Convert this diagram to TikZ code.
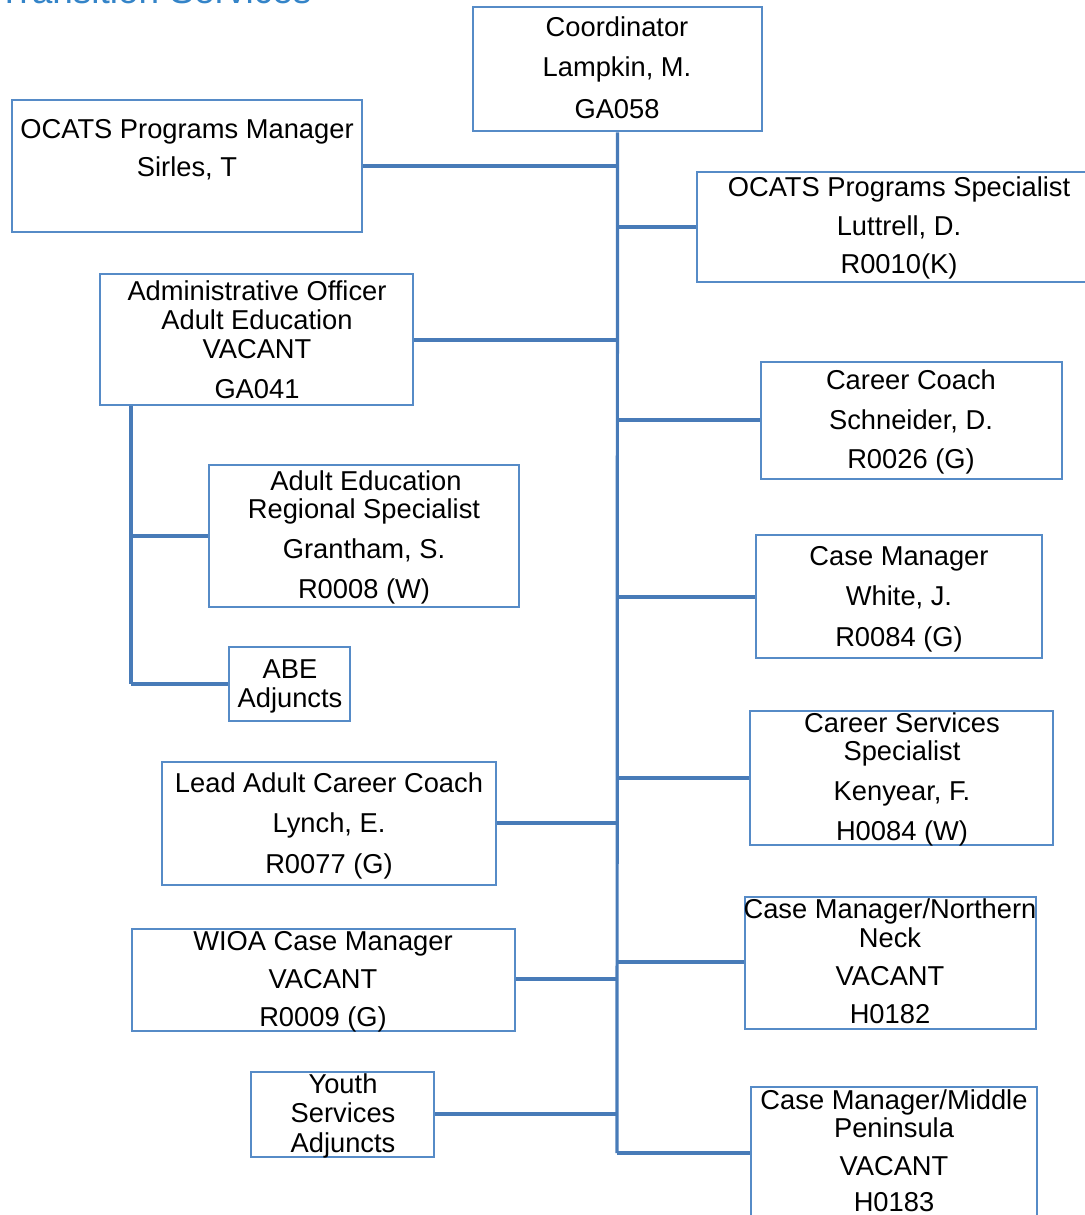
\documentclass[tikz,border=0pt]{standalone}
\usepackage{fontspec}
\setmainfont{Liberation Sans}
\usetikzlibrary{fit}
\definecolor{boxblue}{RGB}{86,139,199}
\definecolor{lineblue}{RGB}{72,123,184}
\definecolor{titleblue}{RGB}{52,132,200}
\tikzset{
  orgbox/.style={draw=boxblue, line width=2.8pt, inner sep=0pt},
  ln/.style={anchor=base, inner sep=0pt, font=\fontsize{27.3}{29}\selectfont},
  conn/.style={draw=lineblue, line width=3.2pt},
}
\begin{document}
\begin{tikzpicture}[x=1pt,y=-1pt]
\useasboundingbox (0,0) rectangle (1084,1215);
% title (cut at top)
\node[anchor=base west, inner sep=0pt, text=titleblue, font=\fontsize{37}{40}\selectfont] (title) at (-2,4) {Transition Services};

% boxes
\node[orgbox, fit={(473,7) (762,131)}] (coord) {};
\node[orgbox, fit={(12,100) (362,232)}] (mgr) {};
\node[orgbox, fit={(697,172) (1095,282)}] (spec) {};
\node[orgbox, fit={(100,274) (413,405)}] (ao) {};
\node[orgbox, fit={(761,362) (1062,479)}] (cc) {};
\node[orgbox, fit={(209,465) (519,607)}] (aers) {};
\node[orgbox, fit={(229,647) (350,721)}] (abe) {};
\node[orgbox, fit={(756,535) (1042,658)}] (cmw) {};
\node[orgbox, fit={(750,711) (1053,845)}] (css) {};
\node[orgbox, fit={(162,762) (496,885)}] (lead) {};
\node[orgbox, fit={(745,897) (1036,1029)}] (nn) {};
\node[orgbox, fit={(132,929) (515,1031)}] (wioa) {};
\node[orgbox, fit={(251,1072) (434,1157)}] (youth) {};
\node[orgbox, fit={(751,1087) (1037,1245)}] (mp) {};

% texts
\node[ln] (coordA) at (617,37) {Coordinator};
\node[ln] (coordB) at (617,77) {Lampkin, M.};
\node[ln] (coordC) at (617,118) {GA058};

\node[ln] (mgrA) at (187,138) {OCATS Programs Manager};
\node[ln] (mgrB) at (187,176) {Sirles, T};

\node[ln] (specA) at (899,196) {OCATS Programs Specialist};
\node[ln] (specB) at (899,235) {Luttrell, D.};
\node[ln] (specC) at (899,273) {R0010(K)};

\node[ln] (aoA) at (257,300) {Administrative Officer};
\node[ln] (aoB) at (257,329) {Adult Education};
\node[ln] (aoC) at (257,358) {VACANT};
\node[ln] (aoD) at (257,398) {GA041};

\node[ln] (ccA) at (911,389) {Career Coach};
\node[ln] (ccB) at (911,429) {Schneider, D.};
\node[ln] (ccC) at (911,468) {R0026 (G)};

\node[ln] (aersA) at (366,490) {Adult Education};
\node[ln] (aersB) at (364,518) {Regional Specialist};
\node[ln] (aersC) at (364,558) {Grantham, S.};
\node[ln] (aersD) at (364,598) {R0008 (W)};

\node[ln] (abeA) at (290,678) {ABE};
\node[ln] (abeB) at (290,707) {Adjuncts};

\node[ln] (cmwA) at (899,565) {Case Manager};
\node[ln] (cmwB) at (899,605) {White, J.};
\node[ln] (cmwC) at (899,646) {R0084 (G)};

\node[ln] (cssA) at (902,732) {Career Services};
\node[ln] (cssB) at (902,760) {Specialist};
\node[ln] (cssC) at (902,800) {Kenyear, F.};
\node[ln] (cssD) at (902,840) {H0084 (W)};

\node[ln] (leadA) at (329,792) {Lead Adult Career Coach};
\node[ln] (leadB) at (329,832) {Lynch, E.};
\node[ln] (leadC) at (329,873) {R0077 (G)};

\node[ln] (nnA) at (890,918) {Case Manager/Northern};
\node[ln] (nnB) at (890,947) {Neck};
\node[ln] (nnC) at (890,985) {VACANT};
\node[ln] (nnD) at (890,1023) {H0182};

\node[ln] (wioaA) at (323,950) {WIOA Case Manager};
\node[ln] (wioaB) at (323,988) {VACANT};
\node[ln] (wioaC) at (323,1026) {R0009 (G)};

\node[ln] (youthA) at (343,1093) {Youth};
\node[ln] (youthB) at (343,1122) {Services};
\node[ln] (youthC) at (343,1152) {Adjuncts};

\node[ln] (mpA) at (894,1109) {Case Manager/Middle};
\node[ln] (mpB) at (894,1137) {Peninsula};
\node[ln] (mpC) at (894,1175) {VACANT};
\node[ln] (mpD) at (894,1211) {H0183};

% junction coordinates on main trunk
\coordinate (jmgr) at (617,166);
\coordinate (jspec) at (617,227);
\coordinate (jao) at (617,340);
\coordinate (jcc) at (617,420);
\coordinate (jcmw) at (617,597);
\coordinate (jcss) at (617,778);
\coordinate (jlead) at (617,823);
\coordinate (jnn) at (617,962);
\coordinate (jwioa) at (617,979);
\coordinate (jyouth) at (617,1114);
\coordinate (jmp) at (617,1153);
% sub trunk
\coordinate (saers) at (131,536);
\coordinate (sabe) at (131,684);

% main trunk
\draw[conn] (coord.south) -- (jmp);
\draw[conn] (jmgr) -- (jmgr -| mgr.east);
\draw[conn] (jspec) -- (jspec -| spec.west);
\draw[conn] (jao) -- (jao -| ao.east);
\draw[conn] (jcc) -- (jcc -| cc.west);
\draw[conn] (jcmw) -- (jcmw -| cmw.west);
\draw[conn] (jcss) -- (jcss -| css.west);
\draw[conn] (jlead) -- (jlead -| lead.east);
\draw[conn] (jnn) -- (jnn -| nn.west);
\draw[conn] (jwioa) -- (jwioa -| wioa.east);
\draw[conn] (jyouth) -- (jyouth -| youth.east);
\draw[conn] (jmp) -- (jmp -| mp.west);
% sub trunk
\draw[conn] (sabe |- ao.south) -- (sabe);
\draw[conn] (saers) -- (saers -| aers.west);
\draw[conn] (sabe) -- (sabe -| abe.west);
\end{tikzpicture}
\end{document}
